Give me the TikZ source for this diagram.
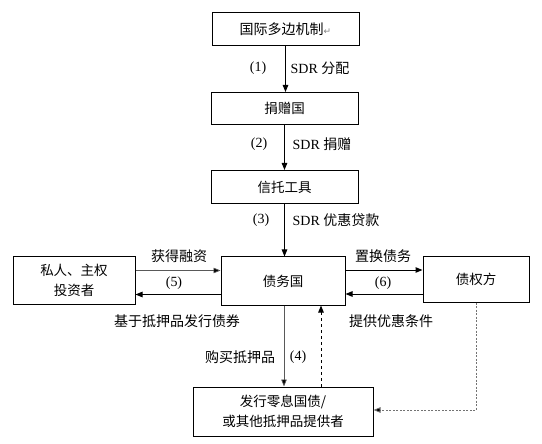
\documentclass[tikz,border=0pt]{standalone}
\usepackage{fontspec}
\setmainfont{Liberation Serif}
\newfontfamily\cjk{Noto Sans CJK SC}
\newfontfamily\dvs{DejaVu Sans}
\usetikzlibrary{arrows.meta}
\newcommand{\zh}[1]{{\cjk #1}}
\begin{document}
\begin{tikzpicture}[x=1pt,y=-1pt,
  box/.style={draw, line width=1pt, inner sep=0pt, align=center, font=\fontsize{13.5}{19.5}\cjk},
  lbl/.style={inner sep=1pt, font=\fontsize{14}{16}\selectfont},
  arr/.style={line width=1pt, -{Triangle[length=7pt,width=5.5pt]}},
  garr/.style={line width=0.7pt, draw=black!65, -{Triangle[length=7pt,width=5.5pt,fill=black]}},
]
\useasboundingbox (0,0) rectangle (542,444);
\node[box, minimum width=147pt, minimum height=33pt, font=\fontsize{14}{17}\cjk] (top) at (285.5,29.5) {国际多边机制{\dvs\fontsize{9}{10}\selectfont\color{black!50}↵}};
\node[box, minimum width=147pt, minimum height=32pt] (don) at (284.5,108.5) {捐赠国};
\node[box, minimum width=147pt, minimum height=33pt] (tru) at (284.5,187) {信托工具};
\node[box, minimum width=124pt, minimum height=48pt] (deb) at (283,281) {债务国};
\node[box, minimum width=122pt, minimum height=47pt] (inv) at (74,280.5) {私人、主权\\投资者};
\node[box, minimum width=106pt, minimum height=45pt] (cre) at (476,279.5) {债权方};
\node[box, minimum width=180pt, minimum height=49pt] (bot) at (283,411.5) {发行零息国债/\\或其他抵押品提供者};

% vertical chain
\draw[arr] (top.south) -- (top.south |- don.north);
\draw[arr] (don.south) -- (don.south |- tru.north);
\draw[arr] (tru.south) -- (tru.south |- deb.north);
\node[lbl] (l1) at (258,68) {(1)};
\node[lbl] (s1) at (320,68) {SDR \zh{分配}};
\node[lbl] (l2) at (259,144) {(2)};
\node[lbl] (s2) at (322,144) {SDR \zh{捐赠}};
\node[lbl] (l3) at (261,220) {(3)};
\node[lbl] (s3) at (336,220) {SDR \zh{优惠贷款}};

% investors
\draw[garr] (inv.east |- 0,270.5) -- (deb.west |- 0,270.5);
\draw[arr] (deb.west |- 0,294.5) -- (inv.east |- 0,294.5);
\node[lbl] (t5) at (179,256) {\zh{获得融资}};
\node[lbl] (l5) at (174,283.5) {(5)};
\node[lbl] (b5) at (177,321.5) {\zh{基于抵押品发行债券}};

% creditors
\draw[arr] (deb.east |- 0,270) -- (cre.west |- 0,270);
\draw[arr] (cre.west |- 0,294) -- (deb.east |- 0,294);
\node[lbl] (t6) at (383,256) {\zh{置换债务}};
\node[lbl] (l6) at (383,283) {(6)};
\node[lbl] (b6) at (391,321.5) {\zh{提供优惠条件}};

% collateral
\draw[garr] (284,0 |- deb.south) -- (284,0 |- bot.north);
\draw[arr, dashed] (321,0 |- bot.north) -- (321,0 |- deb.south);
\node[lbl] (t4) at (240,357) {\zh{购买抵押品}};
\node[lbl] (l4) at (298,357) {(4)};
\coordinate (cr) at (cre.south |- 0,410);
\draw[line width=0.8pt, draw=black!55, dash pattern=on 2pt off 1.5pt, -{Triangle[length=7pt,width=5.5pt,fill=black]}] (cre.south) -- (cr) -- (bot.east |- cr);
\end{tikzpicture}
\end{document}
